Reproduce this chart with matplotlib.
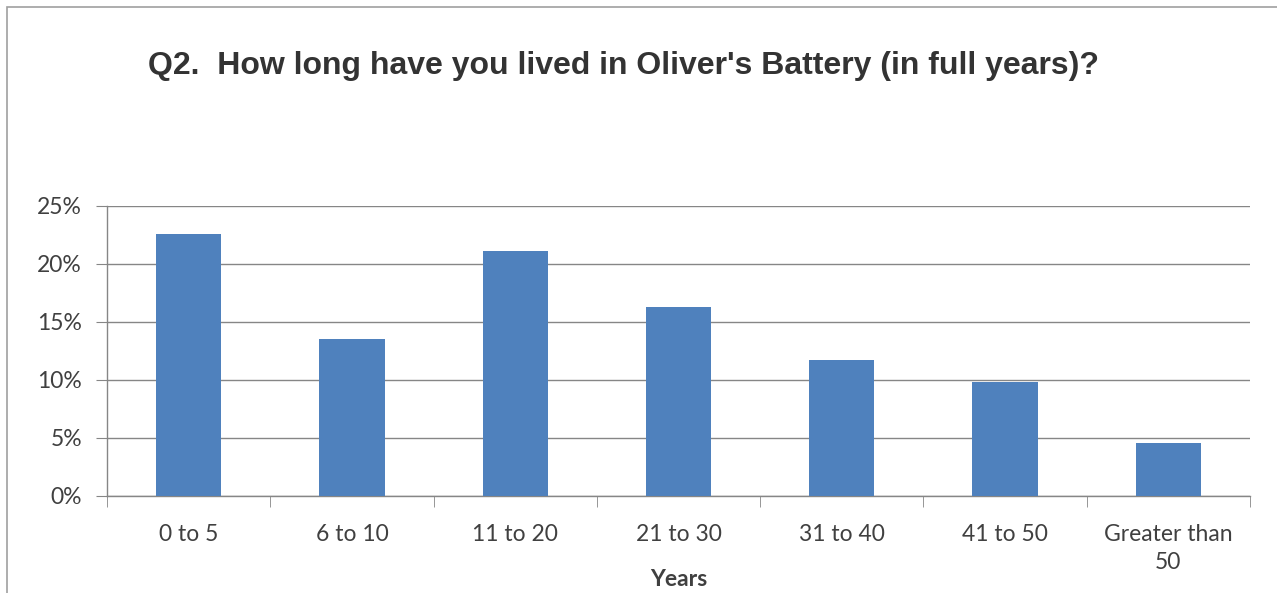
import matplotlib
matplotlib.use("Agg")
import matplotlib.pyplot as plt
from matplotlib.patches import Rectangle
from matplotlib.ticker import FuncFormatter, FixedLocator

categories = ["0 to 5", "6 to 10", "11 to 20", "21 to 30", "31 to 40", "41 to 50", "Greater than\n50"]
values = [22.6, 13.55, 21.15, 16.3, 11.7, 9.8, 4.6]
yticks = [0, 5, 10, 15, 20, 25]

BAR = "#4f81bd"
GRID = "#868686"
TXT = "#404040"

W, H = 1277, 593
fig = plt.figure(figsize=(W / 100, H / 100), dpi=100)
fig.patch.set_facecolor("white")

# outer chart frame (extends past right/bottom edges)
fig.patches.append(Rectangle((7 / W, -0.1), 1.2, 1 - 7 / H + 0.1,
                             transform=fig.transFigure, fill=False,
                             edgecolor="#a0a0a0", linewidth=1.2))

ax = fig.add_axes([107 / W, 1 - 496 / H, (1250 - 107) / W, (496 - 206) / H])
x = list(range(len(categories)))
ax.bar(x, values, width=0.4, color=BAR, zorder=3)

ax.set_xlim(-0.5, len(categories) - 0.5)
ax.set_ylim(0, 25)
ax.set_yticks(yticks)
ax.yaxis.set_major_formatter(FuncFormatter(lambda v, _p: f"{v:.0f}%"))
ax.yaxis.grid(True, color=GRID, linewidth=1, zorder=0)

ax.set_xticks(x)
ax.set_xticklabels(categories, fontsize=16.5, color=TXT, family="Lato",
                   linespacing=1.45)
ax.xaxis.set_minor_locator(FixedLocator([i - 0.5 for i in range(len(categories) + 1)]))
ax.tick_params(axis="x", which="major", length=0, pad=20)
ax.tick_params(axis="x", which="minor", length=8, color=GRID, direction="out")
ax.tick_params(axis="y", length=8, color=GRID, direction="out", pad=10,
               labelsize=16.5, labelcolor=TXT)
for lbl in ax.get_yticklabels():
    lbl.set_family("Lato")

for s in ["top", "right"]:
    ax.spines[s].set_visible(False)
for s in ["left", "bottom"]:
    ax.spines[s].set_color(GRID)
    ax.spines[s].set_linewidth(1)

ax.set_xlabel("Years", fontsize=16.5, fontweight="bold", color=TXT,
              family="Lato", labelpad=-3)

fig.text(148 / W, 1 - 66 / H, "Q2.  How long have you lived in Oliver's Battery (in full years)?",
         fontsize=23, fontweight="bold", color="#333333",
         family="Liberation Sans", va="center", ha="left")

fig.savefig("out.png", dpi=100, facecolor="white")
